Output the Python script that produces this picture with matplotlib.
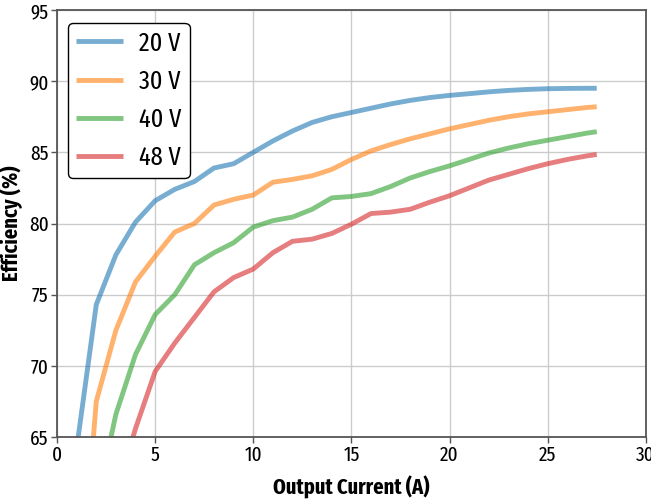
import matplotlib
matplotlib.use("Agg")
import matplotlib.pyplot as plt

plt.rcParams['font.family'] = ['Fira Sans Extra Condensed', 'PT Sans Narrow', 'DejaVu Sans']

current = [1, 2, 3, 4, 5, 6, 7, 8, 9, 10, 11, 12, 13, 14, 15, 16, 17, 18, 19, 20,
           21, 22, 23, 24, 25, 26, 27, 27.5]
eff_20v = [64.2, 74.3, 77.8, 80.1, 81.6, 82.4, 82.95, 83.9, 84.2, 85.0, 85.8, 86.5,
           87.1, 87.5, 87.8, 88.1, 88.4, 88.65, 88.85, 89.0, 89.12, 89.25, 89.35,
           89.42, 89.47, 89.49, 89.5, 89.5]
eff_30v = [50.5, 67.5, 72.5, 75.9, 77.7, 79.4, 80.0, 81.3, 81.7, 82.0, 82.9, 83.1,
           83.35, 83.8, 84.5, 85.1, 85.55, 85.95, 86.3, 86.65, 86.95, 87.25, 87.5,
           87.7, 87.85, 88.0, 88.15, 88.2]
eff_40v = [None, 60.2, 66.6, 70.8, 73.6, 75.0, 77.1, 77.95, 78.65, 79.75, 80.2, 80.45,
           81.0, 81.8, 81.9, 82.1, 82.6, 83.2, 83.65, 84.05, 84.5, 84.95, 85.3,
           85.6, 85.85, 86.1, 86.35, 86.45]
eff_48v = [None, None, 61.0, 65.6, 69.6, 71.6, 73.4, 75.2, 76.2, 76.8, 77.95, 78.75,
           78.9, 79.3, 79.95, 80.7, 80.8, 81.0, 81.5, 81.95, 82.5, 83.05, 83.45,
           83.85, 84.2, 84.5, 84.75, 84.85]
labels = ["20 V", "30 V", "40 V", "48 V"]
colors = ["tab:blue", "tab:orange", "tab:green", "tab:red"]

fig = plt.figure(figsize=(6.51, 5.0), dpi=100)
ax = fig.add_axes([0.0876, 0.126, 0.9044, 0.854])

for series, lab, c in zip([eff_20v, eff_30v, eff_40v, eff_48v], labels, colors):
    xs = [x for x, v in zip(current, series) if v is not None]
    ys = [v for v in series if v is not None]
    ax.plot(xs, ys, color=c, lw=3.5, alpha=0.6, label=lab, solid_capstyle='butt')

ax.set_xlim(0, 30)
ax.set_ylim(65, 95)
ax.set_xticks(range(0, 31, 5))
ax.set_yticks(range(65, 96, 5))
ax.grid(True, color="#cccccc", lw=1.0)
ax.set_axisbelow(True)
for s in ax.spines.values():
    s.set_color("#555555")
    s.set_linewidth(1.3)
ax.tick_params(axis='both', labelsize=15, length=4, width=1, color="#555555", pad=2)
ax.set_xlabel("Output Current (A)", fontsize=16, fontweight='bold', labelpad=8)
ax.set_ylabel("Efficiency (%)", fontsize=16, fontweight='bold', labelpad=4)

leg = ax.legend(loc='upper left', fontsize=19, frameon=True, fancybox=True,
                edgecolor='black', framealpha=1, handlelength=1.8,
                labelspacing=0.5, borderpad=0.3, handletextpad=0.6,
                borderaxespad=0, bbox_to_anchor=(0.0187, 0.9696))
leg.get_frame().set_linewidth(1.0)

fig.savefig("out.png", dpi=100)
